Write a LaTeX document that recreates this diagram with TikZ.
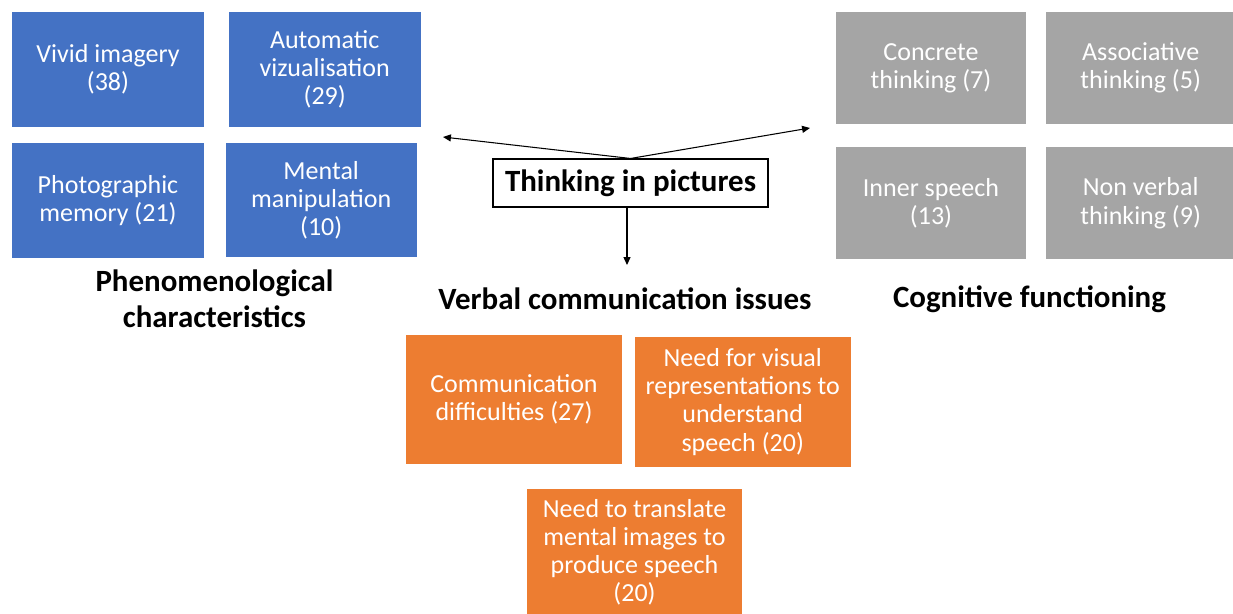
\documentclass[tikz,border=0pt]{standalone}
\usepackage{fontspec}
\setmainfont{Carlito}
\usetikzlibrary{positioning,calc,arrows.meta}

\definecolor{boxblue}{HTML}{4472C4}
\definecolor{boxgray}{HTML}{A5A5A5}
\definecolor{boxorange}{HTML}{ED7D31}

\begin{document}
\begin{tikzpicture}[
    block/.style={rectangle, fill=boxblue, text=white, align=center, inner sep=0pt,
      minimum width=3.84cm, minimum height=2.3cm, font=\fontsize{14.8}{16}\selectfont},
    grayblock/.style={block, fill=boxgray, minimum width=3.8cm, minimum height=2.25cm},
    orangeblock/.style={block, fill=boxorange, minimum width=4.32cm, minimum height=2.58cm},
    heading/.style={align=center, font=\fontsize{17.6}{20.5}\selectfont\bfseries},
    arrow/.style={-{Triangle[length=4.5pt,width=4pt]}, line width=0.6pt}]

    \useasboundingbox (0,0) rectangle (24.66,-12.28);

    % phenomenological characteristics
    \node[block] (vivid) at (2.16,-1.39) {Vivid imagery\\(38)};
    \node[block, right=0.48cm of vivid] (auto) {Automatic\\vizualisation\\(29)};
    \node[block, below=0.3cm of vivid] (photo) {Photographic\\memory (21)};
    \node[block, right=0.42cm of photo, minimum width=3.82cm, minimum height=2.28cm] (mental) {Mental\\manipulation\\(10)};
    \node[heading] (phen) at (4.29,-5.98) {Phenomenological\\characteristics};

    % cognitive functioning
    \node[grayblock] (concrete) at (18.62,-1.36) {Concrete\\thinking (7)};
    \node[grayblock, right=0.38cm of concrete] (assoc) {Associative\\thinking (5)};
    \node[grayblock, below=0.44cm of concrete] (inner) {Inner speech\\(13)};
    \node[grayblock, right=0.38cm of inner] (nonverbal) {Non verbal\\thinking (9)};
    \node[heading] (cog) at (20.59,-5.98) {Cognitive functioning};

    % centre
    \node[draw, line width=0.6pt, fill=white, inner sep=0pt, minimum width=5.5cm, minimum height=0.96cm,
      font=\fontsize{17.6}{20.5}\selectfont\bfseries] (think) at (12.61,-3.66) {Thinking in pictures};
    \node[heading] (verbal) at (12.5,-5.98) {Verbal communication issues};

    % verbal communication issues
    \node[orangeblock] (comm) at (10.28,-7.99) {Communication\\difficulties (27)};
    \node[orangeblock, right=0.24cm of comm, yshift=-0.05cm, minimum height=2.6cm] (visual) {Need for visual\\representations to\\understand\\speech (20)};
    \node[orangeblock, minimum width=4.3cm, minimum height=2.54cm] (translate) at (12.69,-11.05) {Need to translate\\mental images to\\produce speech\\(20)};

    \coordinate (leftend) at (8.86,-2.74);
    \coordinate (rightend) at (16.2,-2.56);
    \coordinate (downend) at (12.54,-5.3);

    \draw[arrow] (think.north) -- (leftend);
    \draw[arrow] (think.north) -- (rightend);
    \draw[arrow] (think.south -| downend) -- (downend);
\end{tikzpicture}
\end{document}
